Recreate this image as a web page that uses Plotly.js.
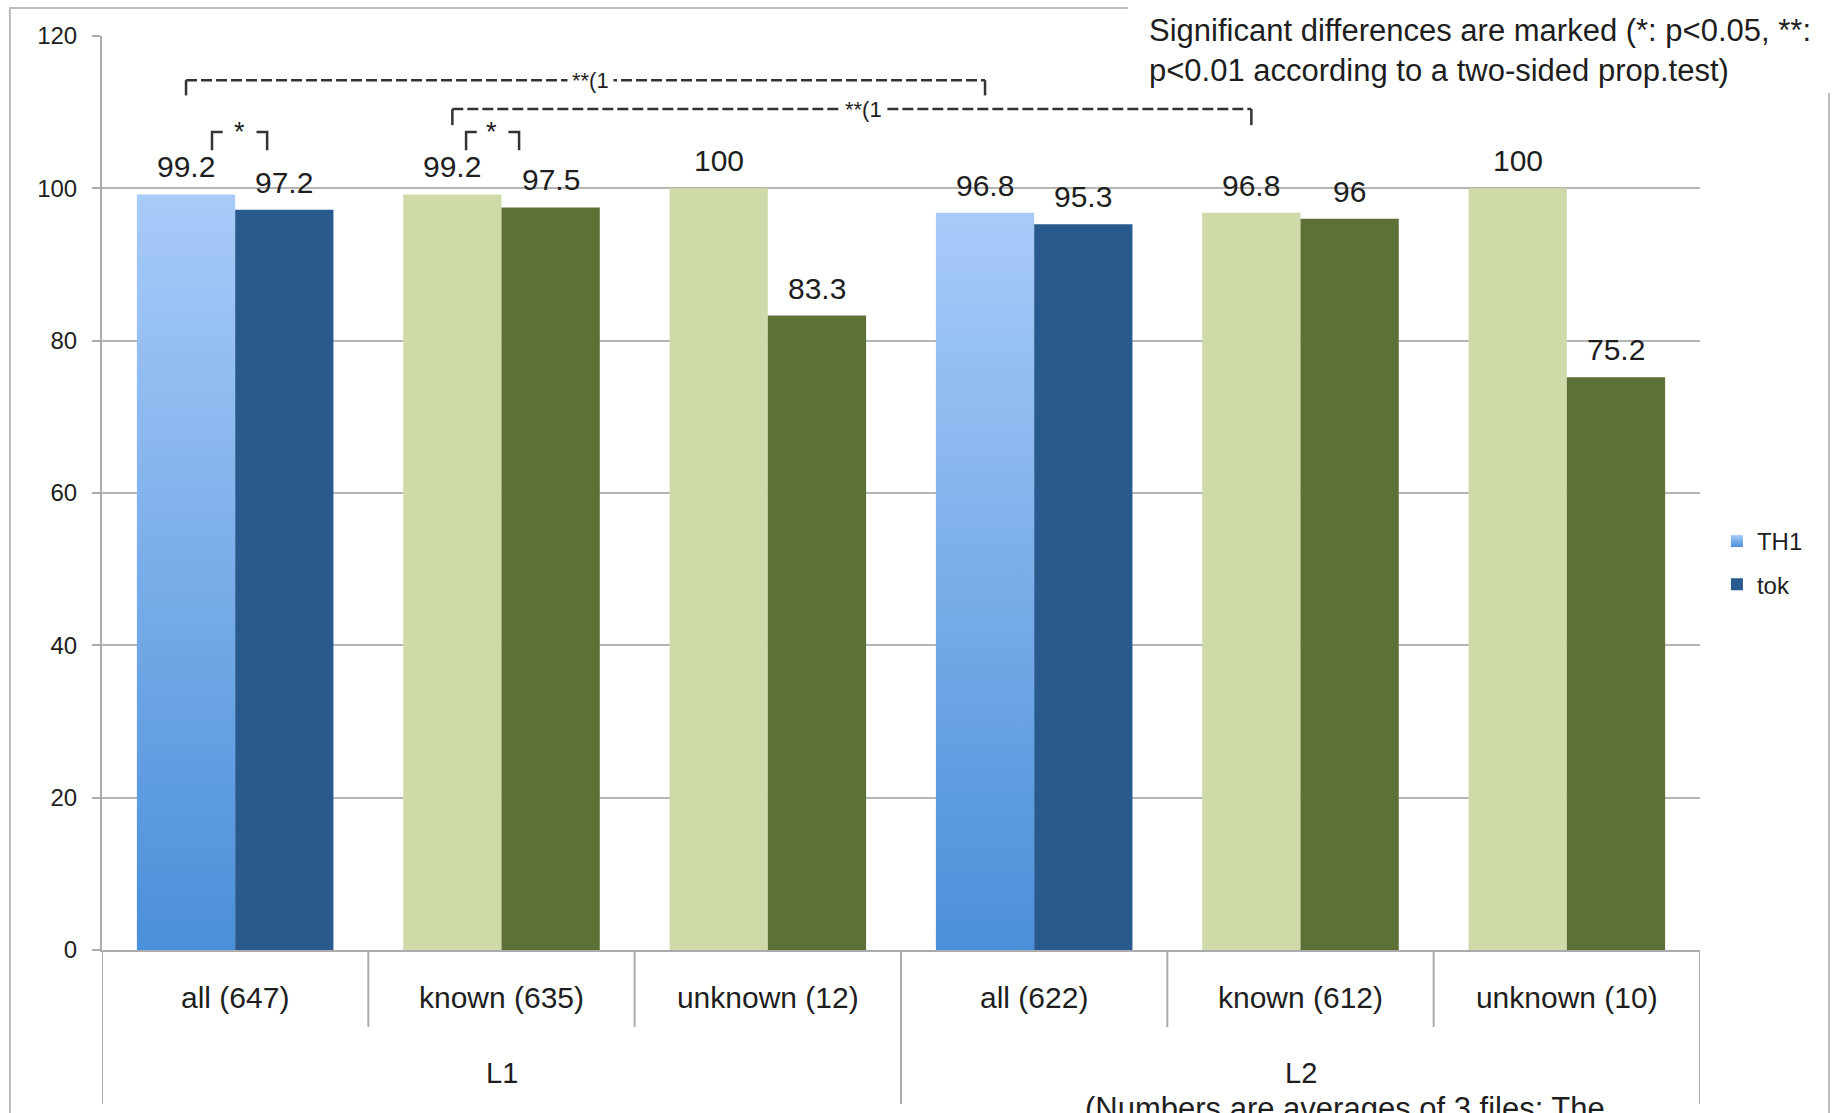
<!DOCTYPE html>
<html>
<head>
<meta charset="utf-8">
<script src="https://cdn.plot.ly/plotly-3.0.1.min.js"></script>
<style>
  html, body { margin: 0; padding: 0; background: #ffffff; }
  #chart { width: 1845px; height: 1113px; }
</style>
</head>
<body>
<div id="chart"></div>
<script>
// ---------------- data ----------------
const categories = ['all (647)', 'known (635)', 'unknown (12)', 'all (622)', 'known (612)', 'unknown (10)'];
const groups = ['L1', 'L2'];
const groupCenters = [1, 4];           // category index at group centre
const groupBoundaries = [-0.5, 2.5, 5.5];
const catBoundaries = [0.5, 1.5, 3.5, 4.5];
const seriesNames = ['TH1', 'tok'];
const th1Values = [99.2, 99.2, 100, 96.8, 96.8, 100];
const tokValues = [97.2, 97.5, 83.3, 95.3, 96, 75.2];
const yTicks = [0, 20, 40, 60, 80, 100, 120];

// significance brackets (category-index positions, y in data units)
const longBrackets = [
  {x0: 0 - 0.1845, x1: 3 - 0.1845, y: 114.2, drop: 2.0, label: '**(1', lx: 1.335},
  {x0: 1 - 0.1845, x1: 4 - 0.1845, y: 110.4, drop: 2.1, label: '**(1', lx: 2.36}
];
const shortBrackets = [
  {x0: -0.087, x1: 0.12, star: 0.018, y: 107.4, drop: 2.4, label: '*'},
  {x0: 0.867, x1: 1.066, star: 0.964, y: 107.4, drop: 2.4, label: '*'}
];
const noteTop = 'Significant differences are marked (*: p<0.05, **:<br>p<0.01 according to a two-sided prop.test)';
const noteBottom = '(Numbers are averages of 3 files; The';

// ---------------- style ----------------
const FONT = 'Liberation Sans, Arial, sans-serif';
const TXT = '#1e1e1e';
const GRID = '#b5b5b5';
const BLUE_LIGHT = '#7aaee8';
const BLUE_DARK = '#285a8e';
const GREEN_LIGHT = '#cfdaa9';
const GREEN_DARK = '#5d7035';
const BARGAP = 0.262;
const half = (1 - BARGAP) / 4;

const isBlue = categories.map(c => c.startsWith('all'));
const th1Colors = isBlue.map(b => b ? BLUE_LIGHT : GREEN_LIGHT);
const tokColors = isBlue.map(b => b ? BLUE_DARK : GREEN_DARK);

const traces = [
  {type: 'bar', name: seriesNames[0], x: categories, y: th1Values,
   marker: {color: th1Colors, line: {width: 0}}, legendgroup: 'a', hoverinfo: 'skip'},
  {type: 'bar', name: seriesNames[1], x: categories, y: tokValues,
   marker: {color: tokColors, line: {width: 0}}, legendgroup: 'b', hoverinfo: 'skip'}
];

const annotations = [];
// value labels
[th1Values, tokValues].forEach((vals, s) => {
  vals.forEach((v, i) => {
    annotations.push({
      xref: 'x', yref: 'y', x: i + (s === 0 ? -half : half), y: v,
      text: String(v), showarrow: false, yanchor: 'bottom', yshift: 9,
      font: {family: FONT, size: 30, color: TXT}
    });
  });
});
// group labels
groups.forEach((g, k) => {
  annotations.push({
    xref: 'x', yref: 'paper', x: groupCenters[k], y: -0.1346, yanchor: 'middle',
    text: g, showarrow: false, font: {family: FONT, size: 29, color: TXT}
  });
});
// bracket labels
longBrackets.forEach(b => {
  annotations.push({
    xref: 'x', yref: 'y', x: b.lx, y: b.y, text: b.label, showarrow: false,
    yanchor: 'middle', bgcolor: '#ffffff', borderpad: 4, yshift: 0,
    font: {family: FONT, size: 22, color: TXT}
  });
});
shortBrackets.forEach(b => {
  annotations.push({
    xref: 'x', yref: 'y', x: b.star, y: b.y, text: b.label, showarrow: false,
    yanchor: 'middle', yshift: 0,
    font: {family: FONT, size: 27, color: TXT}
  });
});
// notes
annotations.push({
  xref: 'paper', yref: 'paper', x: 0.654, y: 0.984, xanchor: 'left', yanchor: 'middle',
  align: 'left', text: noteTop, showarrow: false,
  font: {family: FONT, size: 31, color: TXT}
});
annotations.push({
  xref: 'paper', yref: 'paper', x: 0.778, y: -0.152, xanchor: 'center', yanchor: 'top',
  text: noteBottom, showarrow: false,
  font: {family: FONT, size: 31, color: TXT}
});

const shapes = [];
// outer frame
shapes.push({type: 'rect', xref: 'paper', yref: 'paper', x0: -0.0576, x1: 1.0807, y0: -0.2, y1: 1.0306,
  line: {color: '#bdbdbd', width: 2}, fillcolor: 'rgba(0,0,0,0)', layer: 'below'});
// white box behind note
shapes.push({type: 'rect', xref: 'paper', yref: 'paper', x0: 0.642, x1: 1.1, y0: 0.9376, y1: 1.06,
  line: {width: 0}, fillcolor: '#ffffff', layer: 'above'});
// category dividers
catBoundaries.forEach(xb => shapes.push({type: 'line', xref: 'x', yref: 'paper', x0: xb, x1: xb,
  y0: 0, y1: -0.0842, line: {color: '#ababab', width: 2}}));
groupBoundaries.forEach(xb => shapes.push({type: 'line', xref: 'x', yref: 'paper', x0: xb, x1: xb,
  y0: 0, y1: -0.1685, line: {color: '#ababab', width: 2}}));
// brackets
longBrackets.forEach(b => {
  shapes.push({type: 'line', xref: 'x', yref: 'y', x0: b.x0, x1: b.x1, y0: b.y, y1: b.y,
    line: {color: '#333', width: 2.5, dash: '11px,4px'}});
  shapes.push({type: 'line', xref: 'x', yref: 'y', x0: b.x0, x1: b.x0, y0: b.y, y1: b.y - b.drop,
    line: {color: '#333', width: 2.5}});
  shapes.push({type: 'line', xref: 'x', yref: 'y', x0: b.x1, x1: b.x1, y0: b.y, y1: b.y - b.drop,
    line: {color: '#333', width: 2.5}});
});
shortBrackets.forEach(b => {
  const w = 0.04;
  shapes.push({type: 'path', xref: 'x', yref: 'y',
    path: `M ${b.x0} ${b.y - b.drop} L ${b.x0} ${b.y} L ${b.x0 + w} ${b.y}`,
    line: {color: '#333', width: 2.5}});
  shapes.push({type: 'path', xref: 'x', yref: 'y',
    path: `M ${b.x1 - w} ${b.y} L ${b.x1} ${b.y} L ${b.x1} ${b.y - b.drop}`,
    line: {color: '#333', width: 2.5}});
});

const layout = {
  width: 1845, height: 1113,
  margin: {l: 102, r: 145, t: 36, b: 163, pad: 0},
  paper_bgcolor: '#ffffff', plot_bgcolor: '#ffffff',
  barmode: 'group', bargap: BARGAP, bargroupgap: 0,
  font: {family: FONT, color: TXT},
  showlegend: true,
  legend: {x: 1.0106, xanchor: 'left', y: 0.4716, yanchor: 'top', tracegroupgap: 9,
    font: {family: FONT, size: 24, color: TXT}, bgcolor: 'rgba(0,0,0,0)'},
  xaxis: {type: 'category', showline: true, linecolor: '#ababab', linewidth: 2,
    ticks: '', showgrid: false, zeroline: false, ticklabelstandoff: 20,
    tickfont: {family: FONT, size: 30, color: TXT}, range: [-0.5, 5.5]},
  yaxis: {range: [0, 120], tickvals: yTicks, showline: true, linecolor: '#ababab', linewidth: 2,
    ticks: 'outside', ticklen: 8, tickcolor: '#ababab', tickwidth: 2,
    gridcolor: GRID, gridwidth: 2, zeroline: false, ticklabelstandoff: 10,
    tickfont: {family: FONT, size: 24, color: TXT}},
  annotations: annotations,
  shapes: shapes
};

Plotly.newPlot('chart', traces, layout, {staticPlot: true}).then(gd => {
  const svg = gd.querySelector('svg.main-svg');
  const ns = 'http://www.w3.org/2000/svg';
  const defs = document.createElementNS(ns, 'defs');
  const lg = document.createElementNS(ns, 'linearGradient');
  lg.setAttribute('id', 'th1grad');
  lg.setAttribute('x1', '0'); lg.setAttribute('y1', '0');
  lg.setAttribute('x2', '0'); lg.setAttribute('y2', '1');
  [['0', '#a8cbf9'], ['1', '#4a8fd9']].forEach(([o, c]) => {
    const st = document.createElementNS(ns, 'stop');
    st.setAttribute('offset', o); st.setAttribute('stop-color', c);
    lg.appendChild(st);
  });
  defs.appendChild(lg);
  svg.insertBefore(defs, svg.firstChild);
  const barTraces = gd.querySelectorAll('.barlayer .trace');
  if (barTraces.length) {
    const pts = barTraces[0].querySelectorAll('.point path');
    pts.forEach((p, i) => { if (isBlue[i]) p.style.fill = 'url(#th1grad)'; });
  }
  const legendPts = gd.querySelectorAll('.legend .traces');
  if (legendPts.length) {
    const p = legendPts[0].querySelector('.legendpoints path');
    if (p) p.style.fill = 'url(#th1grad)';
  }
});
</script>
</body>
</html>
